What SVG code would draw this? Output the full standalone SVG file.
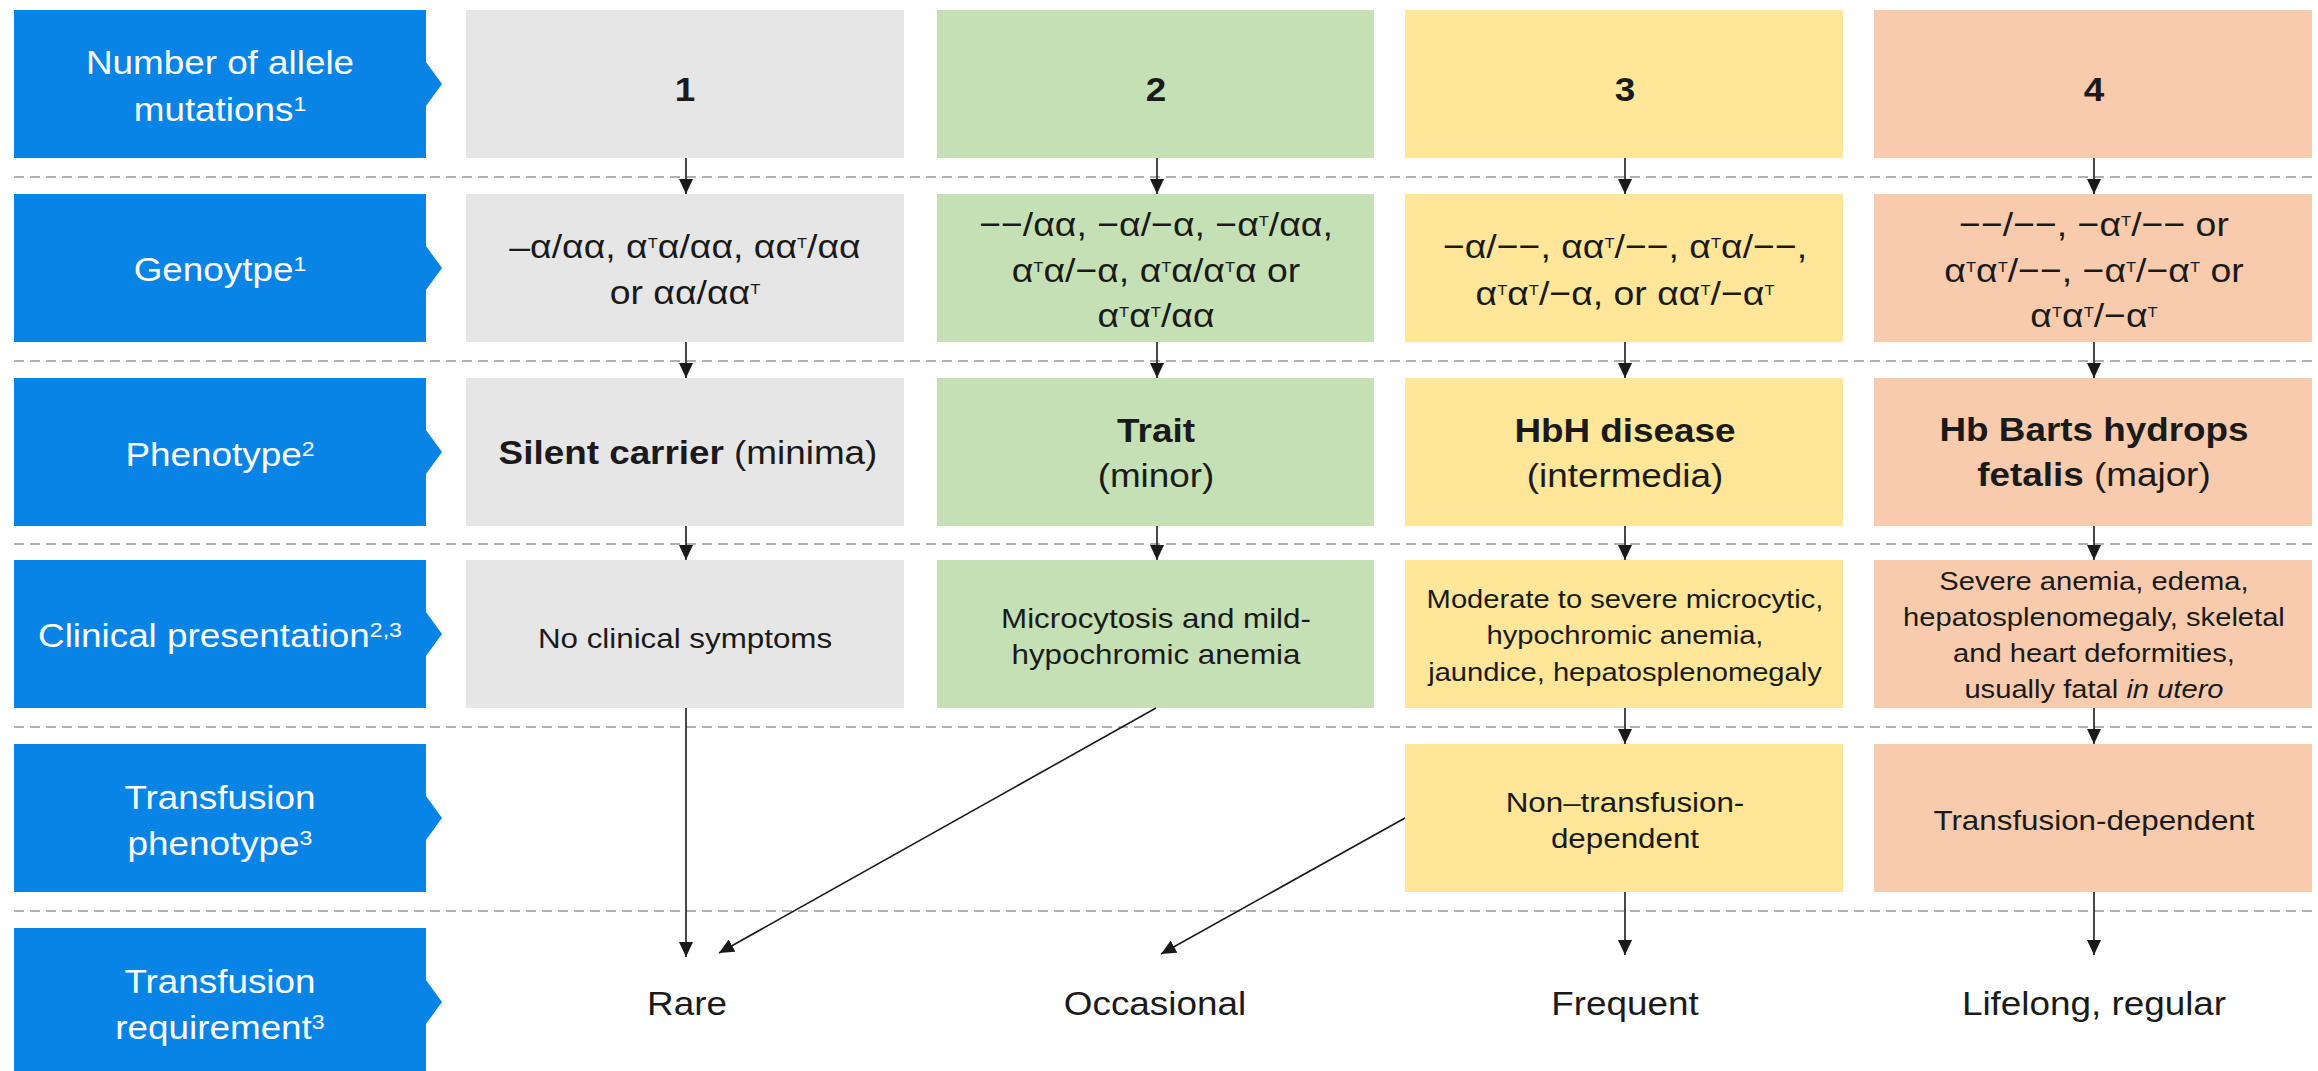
<svg xmlns="http://www.w3.org/2000/svg" width="2318" height="1071" viewBox="0 0 2318 1071">
<style>
text{font-family:"Liberation Sans",Arial,sans-serif;text-anchor:middle}
.lb{fill:#0883e6}
.lt{font-size:33.5px;fill:#ffffff}
.ls{font-size:21px}
.c1{fill:#e7e6e6}.c2{fill:#c5e0b4}.c3{fill:#ffe699}.c4{fill:#f8cbad}
.t{fill:#1a1a1a;font-size:33.5px}
.g{fill:#1a1a1a;font-size:34px}
.s{font-size:15px}
.cl{fill:#1a1a1a;font-size:28.5px}
.cs{fill:#1a1a1a;font-size:26.5px}
.b{font-weight:bold}
.dash{stroke:#b0b0b0;stroke-width:2;stroke-dasharray:10 6;fill:none}
.arr{stroke:#1a1a1a;stroke-width:1.6;fill:none;marker-end:url(#ah)}
</style>
<defs>
<marker id="ah" markerUnits="userSpaceOnUse" markerWidth="15" markerHeight="14" refX="15" refY="7" orient="auto">
<path d="M0,0 L15,7 L0,14 z" fill="#1a1a1a"/>
</marker>
</defs>
<rect width="2318" height="1071" fill="#ffffff"/>
<g id="separators">
<line class="dash" x1="14" y1="177" x2="2318" y2="177"/>
<line class="dash" x1="14" y1="361" x2="2318" y2="361"/>
<line class="dash" x1="14" y1="544" x2="2318" y2="544"/>
<line class="dash" x1="14" y1="727" x2="2318" y2="727"/>
<line class="dash" x1="14" y1="911" x2="2318" y2="911"/>
</g>
<g id="labels">
<g id="label-alleles">
<polygon class="lb" points="14,10 426,10 426,62 442,84 426,106 426,158 14,158"/>
<text class="lt" transform="matrix(1.1 0 0 1 -22 0)"><tspan x="220" y="74">Number of allele</tspan><tspan x="220" y="121">mutations<tspan class="ls" dy="-10">1</tspan></tspan></text>
</g>
<g id="label-genotype">
<polygon class="lb" points="14,194 426,194 426,246 442,268 426,290 426,342 14,342"/>
<text class="lt" x="220" y="281" transform="matrix(1.1 0 0 1 -22 0)">Genoytpe<tspan class="ls" dy="-10">1</tspan></text>
</g>
<g id="label-phenotype">
<polygon class="lb" points="14,378 426,378 426,430 442,452 426,474 426,526 14,526"/>
<text class="lt" x="220" y="466" transform="matrix(1.1 0 0 1 -22 0)">Phenotype<tspan class="ls" dy="-10">2</tspan></text>
</g>
<g id="label-clinical">
<polygon class="lb" points="14,560 426,560 426,612 442,634 426,656 426,708 14,708"/>
<text class="lt" x="220" y="647" transform="matrix(1.1 0 0 1 -22 0)">Clinical presentation<tspan class="ls" dy="-10">2,3</tspan></text>
</g>
<g id="label-tphenotype">
<polygon class="lb" points="14,744 426,744 426,796 442,818 426,840 426,892 14,892"/>
<text class="lt" transform="matrix(1.1 0 0 1 -22 0)"><tspan x="220" y="809">Transfusion</tspan><tspan x="220" y="855">phenotype<tspan class="ls" dy="-10">3</tspan></tspan></text>
</g>
<g id="label-trequirement">
<polygon class="lb" points="14,928 426,928 426,980 442,1002 426,1024 426,1076 14,1076"/>
<text class="lt" transform="matrix(1.1 0 0 1 -22 0)"><tspan x="220" y="993">Transfusion</tspan><tspan x="220" y="1039">requirement<tspan class="ls" dy="-10">3</tspan></tspan></text>
</g>
</g>
<g id="col1">
<g id="n1-count"><rect class="c1" x="466" y="10" width="438" height="148"/>
<text class="t b" x="685" y="101" transform="matrix(1.1 0 0 1 -68.5 0)">1</text></g>
<g id="n1-genotype"><rect class="c1" x="466" y="194" width="438" height="148"/>
<text class="g" transform="matrix(1.1 0 0 1 -68.5 0)"><tspan x="685" y="258">–α/αα, α<tspan class="s" dy="-10">T</tspan><tspan dy="10">α/αα, αα</tspan><tspan class="s" dy="-10">T</tspan><tspan dy="10">/αα</tspan></tspan><tspan x="685" y="304">or αα/αα<tspan class="s" dy="-10">T</tspan></tspan></text></g>
<g id="n1-phenotype"><rect class="c1" x="466" y="378" width="438" height="148"/>
<text class="t" x="688" y="464" transform="matrix(1.1 0 0 1 -68.8 0)"><tspan class="b">Silent carrier</tspan> (minima)</text></g>
<g id="n1-clinical"><rect class="c1" x="466" y="560" width="438" height="148"/>
<text class="cl" x="685" y="648" transform="matrix(1.1 0 0 1 -68.5 0)">No clinical symptoms</text></g>
<g id="n1-req"><text class="t" x="687" y="1015" transform="matrix(1.1 0 0 1 -68.7 0)">Rare</text></g>
</g>
<g id="col2">
<g id="n2-count"><rect class="c2" x="937" y="10" width="437" height="148"/>
<text class="t b" x="1156" y="101" transform="matrix(1.1 0 0 1 -115.6 0)">2</text></g>
<g id="n2-genotype"><rect class="c2" x="937" y="194" width="437" height="148"/>
<text class="g" transform="matrix(1.1 0 0 1 -115.6 0)"><tspan x="1156" y="236">−−/αα, −α/−α, −α<tspan class="s" dy="-10">T</tspan><tspan dy="10">/αα,</tspan></tspan><tspan x="1156" y="282">α<tspan class="s" dy="-10">T</tspan><tspan dy="10">α/−α, α</tspan><tspan class="s" dy="-10">T</tspan><tspan dy="10">α/α</tspan><tspan class="s" dy="-10">T</tspan><tspan dy="10">α or</tspan></tspan><tspan x="1156" y="327">α<tspan class="s" dy="-10">T</tspan><tspan dy="10">α</tspan><tspan class="s" dy="-10">T</tspan><tspan dy="10">/αα</tspan></tspan></text></g>
<g id="n2-phenotype"><rect class="c2" x="937" y="378" width="437" height="148"/>
<text class="t" transform="matrix(1.1 0 0 1 -115.6 0)"><tspan class="b" x="1156" y="442">Trait</tspan><tspan x="1156" y="487">(minor)</tspan></text></g>
<g id="n2-clinical"><rect class="c2" x="937" y="560" width="437" height="148"/>
<text class="cl" transform="matrix(1.1 0 0 1 -115.6 0)"><tspan x="1156" y="628">Microcytosis and mild-</tspan><tspan x="1156" y="664">hypochromic anemia</tspan></text></g>
<g id="n2-req"><text class="t" x="1155" y="1015" transform="matrix(1.1 0 0 1 -115.5 0)">Occasional</text></g>
</g>
<g id="col3">
<g id="n3-count"><rect class="c3" x="1405" y="10" width="438" height="148"/>
<text class="t b" x="1625" y="101" transform="matrix(1.1 0 0 1 -162.5 0)">3</text></g>
<g id="n3-genotype"><rect class="c3" x="1405" y="194" width="438" height="148"/>
<text class="g" transform="matrix(1.1 0 0 1 -162.5 0)"><tspan x="1625" y="258">−α/−−, αα<tspan class="s" dy="-10">T</tspan><tspan dy="10">/−−, α</tspan><tspan class="s" dy="-10">T</tspan><tspan dy="10">α/−−,</tspan></tspan><tspan x="1625" y="305">α<tspan class="s" dy="-10">T</tspan><tspan dy="10">α</tspan><tspan class="s" dy="-10">T</tspan><tspan dy="10">/−α, or αα</tspan><tspan class="s" dy="-10">T</tspan><tspan dy="10">/−α</tspan><tspan class="s" dy="-10">T</tspan></tspan></text></g>
<g id="n3-phenotype"><rect class="c3" x="1405" y="378" width="438" height="148"/>
<text class="t" transform="matrix(1.1 0 0 1 -162.5 0)"><tspan class="b" x="1625" y="442">HbH disease</tspan><tspan x="1625" y="487">(intermedia)</tspan></text></g>
<g id="n3-clinical"><rect class="c3" x="1405" y="560" width="438" height="148"/>
<text class="cs" transform="matrix(1.1 0 0 1 -162.5 0)"><tspan x="1625" y="608">Moderate to severe microcytic,</tspan><tspan x="1625" y="644.5">hypochromic anemia,</tspan><tspan x="1625" y="681">jaundice, hepatosplenomegaly</tspan></text></g>
<g id="n3-tpheno"><rect class="c3" x="1405" y="744" width="438" height="148"/>
<text class="cl" transform="matrix(1.1 0 0 1 -162.5 0)"><tspan x="1625" y="812">Non–transfusion-</tspan><tspan x="1625" y="848">dependent</tspan></text></g>
<g id="n3-req"><text class="t" x="1625" y="1015" transform="matrix(1.1 0 0 1 -162.5 0)">Frequent</text></g>
</g>
<g id="col4">
<g id="n4-count"><rect class="c4" x="1874" y="10" width="438" height="148"/>
<text class="t b" x="2094" y="101" transform="matrix(1.1 0 0 1 -209.4 0)">4</text></g>
<g id="n4-genotype"><rect class="c4" x="1874" y="194" width="438" height="148"/>
<text class="g" transform="matrix(1.1 0 0 1 -209.4 0)"><tspan x="2094" y="236">−−/−−, −α<tspan class="s" dy="-10">T</tspan><tspan dy="10">/−− or</tspan></tspan><tspan x="2094" y="282">α<tspan class="s" dy="-10">T</tspan><tspan dy="10">α</tspan><tspan class="s" dy="-10">T</tspan><tspan dy="10">/−−, −α</tspan><tspan class="s" dy="-10">T</tspan><tspan dy="10">/−α</tspan><tspan class="s" dy="-10">T</tspan><tspan dy="10"> or</tspan></tspan><tspan x="2094" y="327">α<tspan class="s" dy="-10">T</tspan><tspan dy="10">α</tspan><tspan class="s" dy="-10">T</tspan><tspan dy="10">/−α</tspan><tspan class="s" dy="-10">T</tspan></tspan></text></g>
<g id="n4-phenotype"><rect class="c4" x="1874" y="378" width="438" height="148"/>
<text class="t" transform="matrix(1.1 0 0 1 -209.4 0)"><tspan class="b" x="2094" y="441">Hb Barts hydrops</tspan><tspan x="2094" y="486"><tspan class="b">fetalis</tspan> (major)</tspan></text></g>
<g id="n4-clinical"><rect class="c4" x="1874" y="560" width="438" height="148"/>
<text class="cs" transform="matrix(1.1 0 0 1 -209.4 0)"><tspan x="2094" y="590">Severe anemia, edema,</tspan><tspan x="2094" y="626">hepatosplenomegaly, skeletal</tspan><tspan x="2094" y="662">and heart deformities,</tspan><tspan x="2094" y="698">usually fatal <tspan font-style="italic">in utero</tspan></tspan></text></g>
<g id="n4-tpheno"><rect class="c4" x="1874" y="744" width="438" height="148"/>
<text class="cl" x="2094" y="830" transform="matrix(1.1 0 0 1 -209.4 0)">Transfusion-dependent</text></g>
<g id="n4-req"><text class="t" x="2094" y="1015" transform="matrix(1.1 0 0 1 -209.4 0)">Lifelong, regular</text></g>
</g>
<g id="connectors">
<line class="arr" x1="686" y1="158" x2="686" y2="194"/>
<line class="arr" x1="1157" y1="158" x2="1157" y2="194"/>
<line class="arr" x1="1625" y1="158" x2="1625" y2="194"/>
<line class="arr" x1="2094" y1="158" x2="2094" y2="194"/>
<line class="arr" x1="686" y1="342" x2="686" y2="378"/>
<line class="arr" x1="1157" y1="342" x2="1157" y2="378"/>
<line class="arr" x1="1625" y1="342" x2="1625" y2="378"/>
<line class="arr" x1="2094" y1="342" x2="2094" y2="378"/>
<line class="arr" x1="686" y1="526" x2="686" y2="560"/>
<line class="arr" x1="1157" y1="526" x2="1157" y2="560"/>
<line class="arr" x1="1625" y1="526" x2="1625" y2="560"/>
<line class="arr" x1="2094" y1="526" x2="2094" y2="560"/>
<line class="arr" x1="1625" y1="708" x2="1625" y2="744"/>
<line class="arr" x1="2094" y1="708" x2="2094" y2="744"/>
<line class="arr" x1="1625" y1="892" x2="1625" y2="955"/>
<line class="arr" x1="2094" y1="892" x2="2094" y2="955"/>
<line class="arr" x1="686" y1="708" x2="686" y2="957"/>
<line class="arr" x1="1156" y1="708" x2="719" y2="953"/>
<line class="arr" x1="1405" y1="818" x2="1161" y2="954"/>
</g>
</svg>
